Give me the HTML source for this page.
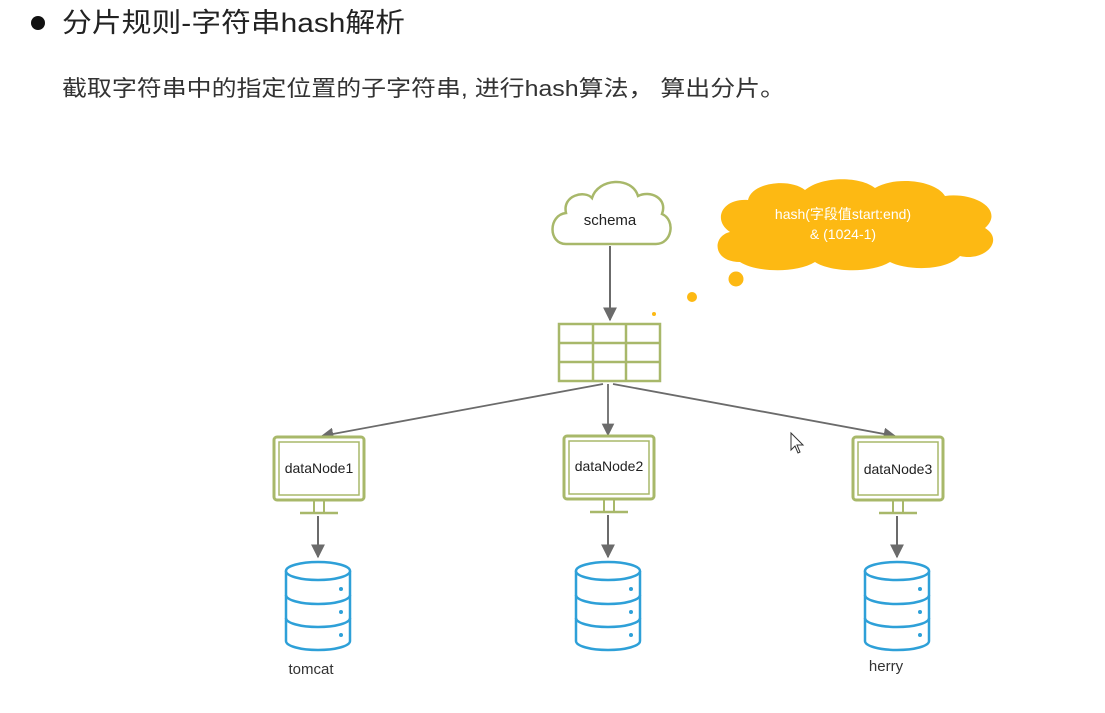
<!DOCTYPE html>
<html><head><meta charset="utf-8"><style>
html,body{margin:0;padding:0;background:#fff;}
svg{display:block;}
</style></head><body>
<svg width="1105" height="713" viewBox="0 0 1105 713" xmlns="http://www.w3.org/2000/svg" font-family="'Liberation Sans','Noto Sans CJK SC',sans-serif">
<defs>
<marker id="ah" viewBox="0 0 10 10" refX="9" refY="5" markerWidth="7" markerHeight="7" orient="auto"><path d="M0,0 L10,5 L0,10 z" fill="#6b6b6b"/></marker>
<g id="mon">
<rect x="0" y="0" width="90" height="63" rx="3" fill="#fff" stroke="#a8b86a" stroke-width="3"/>
<rect x="5" y="5" width="80" height="53" fill="none" stroke="#a8b86a" stroke-width="1.5"/>
<line x1="40" y1="63" x2="40" y2="76" stroke="#a8b86a" stroke-width="2"/>
<line x1="50" y1="63" x2="50" y2="76" stroke="#a8b86a" stroke-width="2"/>
<line x1="26" y1="76" x2="64" y2="76" stroke="#a8b86a" stroke-width="2.5"/>
</g>
<g id="db" fill="#fff" stroke="#2ea0d8" stroke-width="2.5">
<path d="M0,10 L0,80 A32,9 0 0 0 64,80 L64,10"/>
<ellipse cx="32" cy="10" rx="32" ry="9"/>
<path d="M0,34 A32,9 0 0 0 64,34" fill="none"/>
<path d="M0,57 A32,9 0 0 0 64,57" fill="none"/>
<circle cx="55" cy="28" r="2" fill="#2ea0d8" stroke="none"/>
<circle cx="55" cy="51" r="2" fill="#2ea0d8" stroke="none"/>
<circle cx="55" cy="74" r="2" fill="#2ea0d8" stroke="none"/>
</g>
</defs>
<circle cx="38" cy="23" r="7" fill="#111"/>
<text x="62" y="32" font-size="27" fill="#222" textLength="343" lengthAdjust="spacingAndGlyphs">分片规则-字符串hash解析</text>
<text x="62" y="96" font-size="22" fill="#333" textLength="723" lengthAdjust="spacingAndGlyphs">截取字符串中的指定位置的子字符串, 进行hash算法， 算出分片。</text>

<!-- schema cloud -->
<path d="M566,244 C548,244 548,215 566,213 C562,195 585,190 592,198 C598,178 632,176 638,196 C650,190 668,198 662,214 C676,220 672,244 656,244 Z" fill="#fff" stroke="#a8b86a" stroke-width="2.5"/>
<text x="610" y="225" font-size="15" text-anchor="middle" fill="#222">schema</text>
<line x1="610" y1="246" x2="610" y2="320" stroke="#6b6b6b" stroke-width="2" marker-end="url(#ah)"/>

<!-- yellow cloud -->
<path d="M740,262 C712,262 712,236 730,232 C712,220 722,198 748,200 C752,182 790,178 805,190 C822,176 860,176 875,188 C895,176 935,180 945,196 C975,192 1005,210 985,228 C1005,240 985,262 960,256 C945,272 905,270 890,262 C870,274 830,272 815,262 C795,274 755,272 740,262 Z" fill="#fdb913"/>
<text x="843" y="219" font-size="14" text-anchor="middle" fill="#fff">hash(字段值start:end)</text>
<text x="843" y="239" font-size="14" text-anchor="middle" fill="#fff">&amp; (1024-1)</text>
<circle cx="736" cy="279" r="7.5" fill="#fdb913"/>
<circle cx="692" cy="297" r="5" fill="#fdb913"/>
<circle cx="654" cy="314" r="2" fill="#fdb913"/>

<!-- table -->
<g stroke="#a8b86a" stroke-width="2.5" fill="#fff">
<rect x="559" y="324" width="101" height="57"/>
<line x1="559" y1="343" x2="660" y2="343"/>
<line x1="559" y1="362" x2="660" y2="362"/>
<line x1="593" y1="324" x2="593" y2="381"/>
<line x1="626" y1="324" x2="626" y2="381"/>
</g>

<line x1="603" y1="384" x2="322" y2="436" stroke="#6b6b6b" stroke-width="1.8" marker-end="url(#ah)"/>
<line x1="608" y1="384" x2="608" y2="435" stroke="#6b6b6b" stroke-width="1.8" marker-end="url(#ah)"/>
<line x1="613" y1="384" x2="895" y2="436" stroke="#6b6b6b" stroke-width="1.8" marker-end="url(#ah)"/>

<use href="#mon" x="274" y="437"/>
<use href="#mon" x="564" y="436"/>
<use href="#mon" x="853" y="437"/>
<text x="319" y="473" font-size="14" text-anchor="middle" fill="#222">dataNode1</text>
<text x="609" y="471" font-size="14" text-anchor="middle" fill="#222">dataNode2</text>
<text x="898" y="474" font-size="14" text-anchor="middle" fill="#222">dataNode3</text>

<line x1="318" y1="516" x2="318" y2="557" stroke="#6b6b6b" stroke-width="2" marker-end="url(#ah)"/>
<line x1="608" y1="515" x2="608" y2="557" stroke="#6b6b6b" stroke-width="2" marker-end="url(#ah)"/>
<line x1="897" y1="516" x2="897" y2="557" stroke="#6b6b6b" stroke-width="2" marker-end="url(#ah)"/>

<use href="#db" x="286" y="561"/>
<use href="#db" x="576" y="561"/>
<use href="#db" x="865" y="561"/>
<text x="311" y="674" font-size="15" text-anchor="middle" fill="#333">tomcat</text>
<text x="886" y="671" font-size="15" text-anchor="middle" fill="#333">herry</text>

<path d="M791,433 L791,450 L795,446 L798,453 L800,452 L797,445 L803,445 Z" fill="#fff" stroke="#333" stroke-width="1"/>
</svg>
</body></html>
